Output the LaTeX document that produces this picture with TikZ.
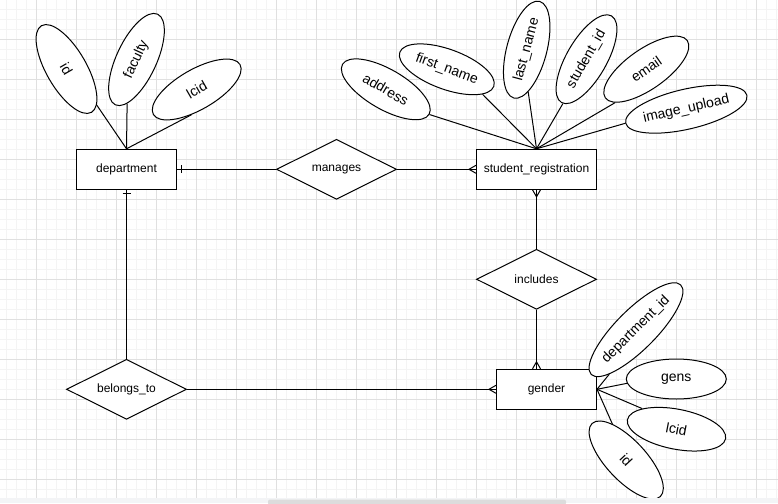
\documentclass[tikz,border=0pt]{standalone}
\usepackage{fontspec}
\setmainfont{Liberation Sans}
\usetikzlibrary{shapes.geometric,calc}
\definecolor{gmajor}{HTML}{E0E0E0}
\definecolor{gminor}{HTML}{F4F4F4}
\definecolor{stripc}{HTML}{F3F4F6}
\definecolor{scrollc}{HTML}{DCDCDC}
\tikzset{
  ent/.style={draw, line width=1pt, fill=white, minimum width=100pt, minimum height=40pt, inner sep=0pt, font=\fontsize{12pt}{14pt}\selectfont},
  rel/.style={draw, diamond, aspect=2, line width=1pt, fill=white, minimum width=120pt, minimum height=60pt, inner sep=0pt, font=\fontsize{12pt}{14pt}\selectfont},
  attr/.style={draw, ellipse, line width=1pt, fill=white, minimum width=100pt, minimum height=40pt, inner sep=0pt, font=\fontsize{14pt}{16pt}\selectfont},
  conn/.style={line width=1pt, line join=miter},
  gridmajor/.style={draw=gmajor, line width=1pt},
  gridminor/.style={draw=gminor, line width=1pt}
}
\begin{document}
\begin{tikzpicture}[x=1pt, y=-1pt]
\useasboundingbox (0,0) rectangle (778,503);
\fill[white] (0,0) rectangle (778,503);
% grid
\foreach \x in {6.5,16.5,...,776.5} \draw[gridminor] (\x,0) -- (\x,503);
\foreach \y in {9.3,19.3,...,500} \draw[gridminor] (0,\y) -- (778,\y);
\foreach \x in {36.5,76.5,...,776.5} \draw[gridmajor] (\x,0) -- (\x,503);
\foreach \y in {39.3,79.3,...,500} \draw[gridmajor] (0,\y) -- (778,\y);

% entities
\node[ent] (dept) at (126.5,169.3) {department};
\node[ent, minimum width=120pt] (sr) at (536.5,169.3) {student\_registration};
\node[ent] (gen) at (546.5,389.3) {gender};

% relationships
\node[rel] (man) at (336.5,169.3) {manages};
\node[rel] (inc) at (536.5,279.3) {includes};
\node[rel] (bel) at (126.5,389.3) {belongs\_to};

% attributes of department
\node[attr, rotate=-60] (dId) at (66.5,69) {id};
\node[attr, rotate=65] (dFac) at (136.5,59.5) {faculty};
\node[attr, rotate=30] (dLcid) at (196.7,89.5) {lcid};

% attributes of student_registration
\node[attr, rotate=-30] (sAddr) at (385.8,89.3) {address};
\node[attr, rotate=-20] (sFirst) at (446.8,69.3) {first\_name};
\node[attr, rotate=75] (sLast) at (526.7,49.7) {last\_name};
\node[attr, rotate=60] (sSid) at (586.5,59.2) {student\_id};
\node[attr, rotate=35] (sEmail) at (646.3,69.2) {email};
\node[attr, rotate=13] (sImg) at (686.3,109.2) {image\_upload};

% attributes of gender
\node[attr, rotate=45] (gDep) at (636,329.7) {department\_id};
\node[attr] (gGens) at (676.3,379) {gens};
\node[attr, rotate=-11] (gLcid) at (676.5,429.2) {lcid};
\node[attr, rotate=-47] (gId) at (626.2,460) {id};

% attribute connectors
\draw[conn] (dId.10) -- (dept.north);
\draw[conn] (dFac.193) -- (dept.north);
\draw[conn] (dLcid.228) -- (dept.north);
\draw[conn] (sAddr.east) -- (sr.north);
\draw[conn] (sFirst.-15) -- (sr.north);
\draw[conn] (sLast.197) -- (sr.north);
\draw[conn] (sSid.182) -- (sr.north);
\draw[conn] (sEmail.192) -- (sr.north);
\draw[conn] (sImg.180) -- (sr.north);
\draw[conn] (gDep.194) -- (gen.east);
\draw[conn] (gGens.185) -- (gen.east);
\draw[conn] (gLcid.160) -- (gen.east);
\draw[conn] (gId.158) -- (gen.east);

% relationship connectors
\draw[conn] (dept.east) -- (man.west);
\draw[conn] ($(dept.east)+(4,-4)$) -- ++(0,8);
\draw[conn] (man.east) -- (sr.west);
\draw[conn] ($(sr.west)+(0,-4)$) -- ($(sr.west)+(-7,0)$) -- ($(sr.west)+(0,4)$);
\draw[conn] (inc.north) -- (sr.south);
\draw[conn] ($(sr.south)+(-4,0)$) -- ($(sr.south)+(0,7)$) -- ($(sr.south)+(4,0)$);
\coordinate (gtop) at (inc.south |- gen.north);
\draw[conn] (inc.south) -- (gtop);
\draw[conn] ($(gtop)+(-4,0)$) -- ($(gtop)+(0,-7)$) -- ($(gtop)+(4,0)$);
\draw[conn] (dept.south) -- (bel.north);
\draw[conn] ($(dept.south)+(-4,4)$) -- ++(8,0);
\draw[conn] (bel.east) -- (gen.west);
\draw[conn] ($(gen.west)+(0,-4)$) -- ($(gen.west)+(-7,0)$) -- ($(gen.west)+(0,4)$);

% bottom strip and scroll bar
\fill[stripc] (0,497.5) rectangle (778,503);
\fill[scrollc, rounded corners=2pt] (268,499.5) rectangle (566,505);
\end{tikzpicture}
\end{document}
